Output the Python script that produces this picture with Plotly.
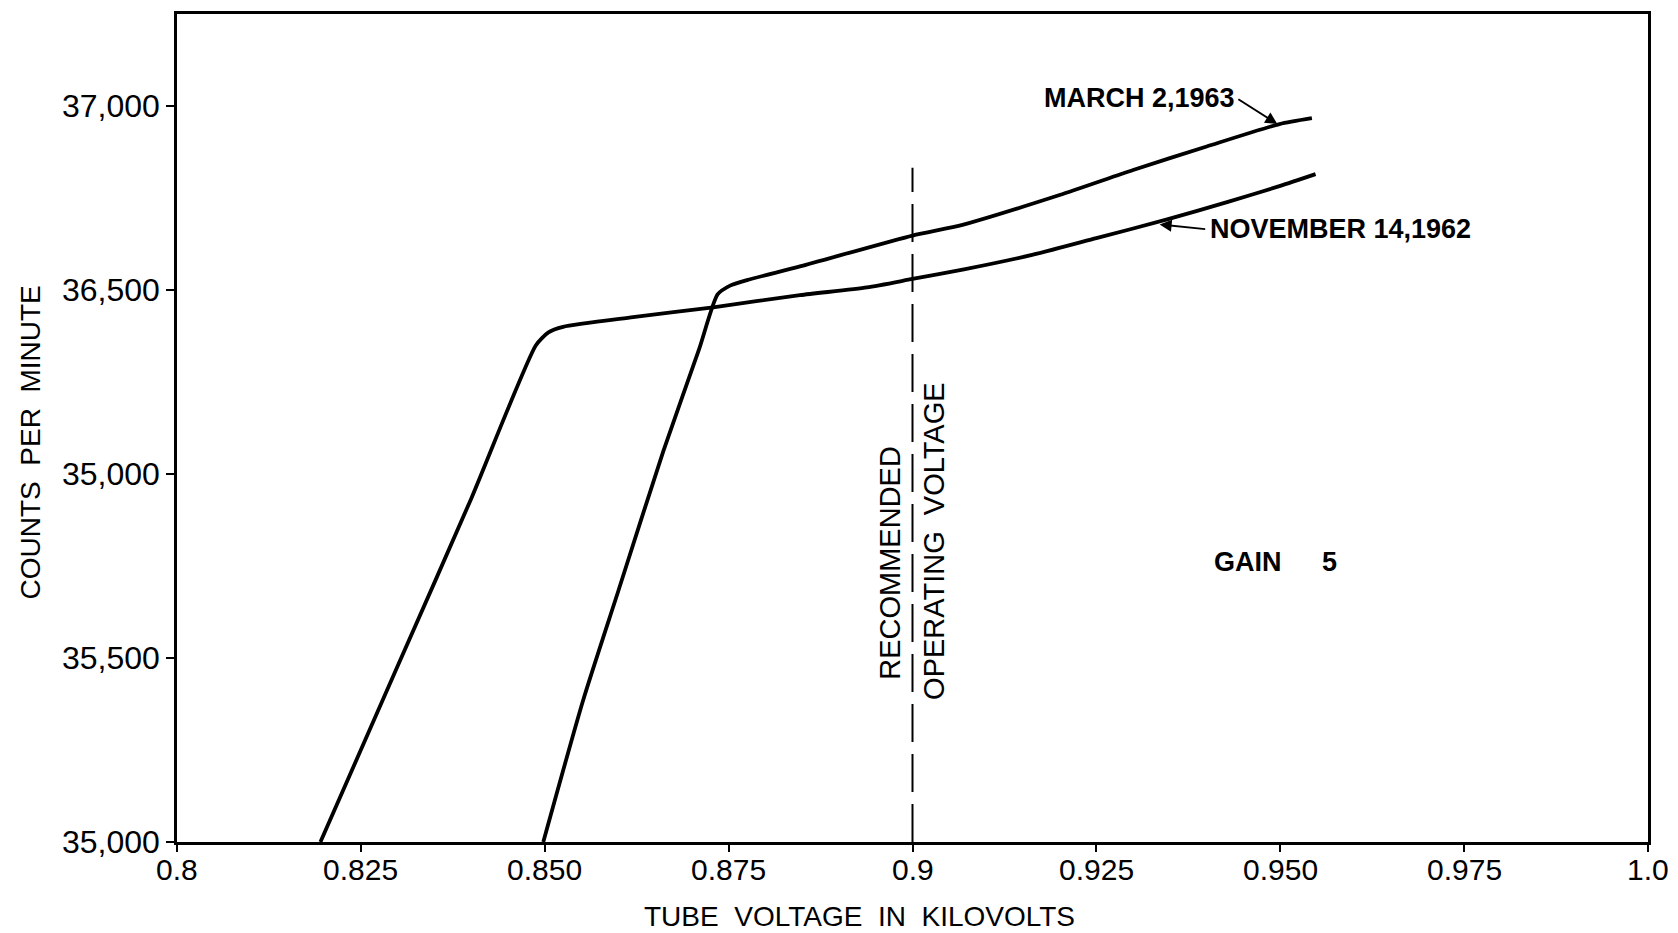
import plotly.graph_objects as go

# ---- data ----
nov_x = [0.8195, 0.8300, 0.8400, 0.8488, 0.8505, 0.8525, 0.8620, 0.8729, 0.8847,
         0.8938, 0.9000, 0.9070, 0.9164, 0.9250, 0.9345, 0.9430, 0.9500, 0.9548]
nov_y = [35000, 35478, 35933, 36350, 36385, 36400, 36426, 36453, 36486,
         36507, 36530, 36556, 36596, 36641, 36691, 36740, 36783, 36815]

mar_x = [0.8498, 0.8552, 0.8600, 0.8661, 0.8710, 0.8735, 0.8752, 0.8775, 0.8847,
         0.9000, 0.9068, 0.9200, 0.9300, 0.9400, 0.9499, 0.9543]
mar_y = [35000, 35384, 35682, 36061, 36340, 36488, 36512, 36527, 36564,
         36648, 36677, 36758, 36826, 36890, 36951, 36967]

x_tickvals = [0.8, 0.825, 0.85, 0.875, 0.9, 0.925, 0.95, 0.975, 1.0]
x_ticktext = ["0.8", "0.825", "0.850", "0.875", "0.9", "0.925", "0.950", "0.975", "1.0"]
y_tickvals = [35000, 35500, 36000, 36500, 37000]
y_ticktext = ["35,000", "35,500", "35,000", "36,500", "37,000"]

recommended_voltage = 0.9
recommended_top = 36832

FONT = "Liberation Sans, Arial, sans-serif"
NB = "\u00a0"

fig = go.Figure()
fig.add_trace(go.Scatter(x=nov_x, y=nov_y, mode="lines", name="NOVEMBER 14,1962",
                         line=dict(color="black", width=3.8, shape="spline", smoothing=0.6)))
fig.add_trace(go.Scatter(x=mar_x, y=mar_y, mode="lines", name="MARCH 2,1963",
                         line=dict(color="black", width=3.8, shape="spline", smoothing=0.6)))
fig.add_trace(go.Scatter(x=[recommended_voltage, recommended_voltage],
                         y=[35000, recommended_top], mode="lines",
                         line=dict(color="black", width=2, dash="38px,12px"),
                         showlegend=False))

lab_font = dict(size=27, family=FONT, color="black")
annotations = [
    dict(x=0.9496, y=36951, ax=0.9441, ay=37021, axref="x", ayref="y",
         xref="x", yref="y", text="", showarrow=True, arrowhead=2,
         arrowsize=1.2, arrowwidth=2, arrowcolor="black"),
    dict(x=0.9441, y=37021, xref="x", yref="y", text="<b>MARCH 2,1963</b>",
         showarrow=False, xanchor="right", yanchor="middle", font=lab_font),
    dict(x=0.9336, y=36678, ax=0.9400, ay=36665, axref="x", ayref="y",
         xref="x", yref="y", text="", showarrow=True, arrowhead=2,
         arrowsize=1.2, arrowwidth=2, arrowcolor="black"),
    dict(x=0.9402, y=36665, xref="x", yref="y", text="<b>NOVEMBER 14,1962</b>",
         showarrow=False, xanchor="left", yanchor="middle", font=lab_font),
    dict(x=0.8969, y=35758, xref="x", yref="y", text="RECOMMENDED",
         showarrow=False, textangle=-90,
         font=dict(size=29, family=FONT, color="black")),
    dict(x=0.9030, y=35817, xref="x", yref="y", text="OPERATING" + NB * 2 + "VOLTAGE",
         showarrow=False, textangle=-90,
         font=dict(size=29, family=FONT, color="black")),
    dict(x=0.9407, y=35760, xref="x", yref="y", text="<b>GAIN</b>",
         showarrow=False, xanchor="left", font=lab_font),
    dict(x=0.9567, y=35760, xref="x", yref="y", text="<b>5</b>",
         showarrow=False, font=lab_font),
    dict(x=0.4643, y=-0.09, xref="paper", yref="paper",
         text="TUBE" + NB * 2 + "VOLTAGE" + NB * 2 + "IN" + NB * 2 + "KILOVOLTS",
         showarrow=False, yanchor="middle",
         font=dict(size=28, family=FONT, color="black")),
    dict(x=-0.0999, y=0.4826, xref="paper", yref="paper",
         text="COUNTS" + NB * 2 + "PER" + NB * 2 + "MINUTE", textangle=-90,
         showarrow=False, xanchor="center",
         font=dict(size=28, family=FONT, color="black")),
]
# x tick labels, placed just under the axis
for tv, tt in zip(x_tickvals, x_ticktext):
    annotations.append(dict(x=tv, y=-0.0337, xref="x", yref="paper", text=tt,
                            showarrow=False, yanchor="middle",
                            font=dict(size=30, family=FONT, color="black")))

fig.update_layout(
    width=1678, height=933,
    margin=dict(l=177, r=30, t=11, b=91),
    paper_bgcolor="white", plot_bgcolor="white",
    showlegend=False,
    annotations=annotations,
    font=dict(family=FONT, color="black"),
)
fig.update_xaxes(range=[0.8, 1.0], tickvals=x_tickvals, showticklabels=False,
                 showgrid=False, zeroline=False, showline=True, linecolor="black",
                 linewidth=2.5, mirror=True, ticks="outside", ticklen=7,
                 tickwidth=2, tickcolor="black")
fig.update_yaxes(range=[35000, 37250], tickvals=y_tickvals, ticktext=y_ticktext,
                 showgrid=False, zeroline=False, showline=True, linecolor="black",
                 linewidth=2.5, mirror=True, ticks="outside", ticklen=8,
                 tickwidth=2, tickcolor="black",
                 tickfont=dict(size=32, family=FONT, color="black"))

fig.write_html("out.html", config={"displayModeBar": False},
               post_script="document.body.style.margin='0';document.body.style.overflow='hidden';")
